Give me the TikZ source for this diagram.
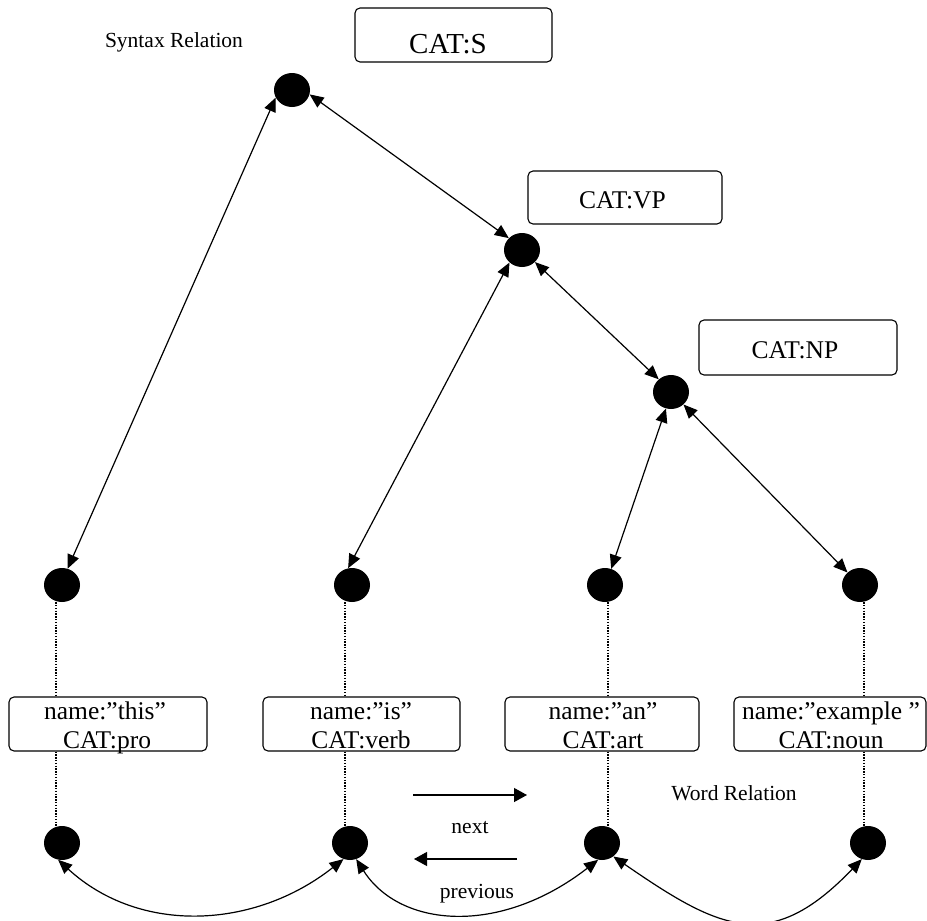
\documentclass[tikz,border=0pt]{standalone}
\usepackage{fontspec}
\setmainfont{Liberation Serif}
\usetikzlibrary{arrows.meta,shapes.geometric}
\begin{document}
\begin{tikzpicture}[x=1pt,y=-1pt,
  dot/.style={ellipse,fill=black,draw=none,minimum width=36pt,minimum height=34pt,inner sep=0pt},
  box/.style={draw,rounded corners=5pt,line width=1.1pt,inner sep=0pt},
  wbox/.style={box,minimum height=54pt},
  wtxt/.style={font=\fontsize{25.5pt}{30pt}\selectfont,inner sep=0pt,anchor=base},
  btxt/.style={font=\fontsize{25.5pt}{30pt}\selectfont,inner sep=0pt,anchor=base},
  lbl/.style={font=\fontsize{21.5pt}{26pt}\selectfont,inner sep=0pt,anchor=base},
  syn/.style={{Triangle[length=14pt,width=12pt]}-{Triangle[length=14pt,width=12pt]},line width=1.2pt},
  onearrow/.style={-{Triangle[length=13pt,width=14pt]},line width=1.2pt},
  dots/.style={line width=1.1pt,dash pattern=on 1.4pt off 1.4pt}]
\useasboundingbox (0,0) rectangle (927,921);

% labels
\node[lbl] (synlbl) at (174,47) {Syntax Relation};
\node[lbl] (wordlbl) at (734,800) {Word Relation};

% category boxes
\node[box,minimum width=197pt,minimum height=54pt] (sbox) at (453.5,35) {};
\node[btxt,font=\fontsize{29pt}{34pt}\selectfont] (stxt) at (448,53) {CAT:S};
\node[box,minimum width=194pt,minimum height=53pt] (vpbox) at (625,197.5) {};
\node[btxt] (vptxt) at (622.5,208) {CAT:VP};
\node[box,minimum width=198pt,minimum height=55pt] (npbox) at (798,347.5) {};
\node[btxt] (nptxt) at (795,358) {CAT:NP};

% syntax nodes
\node[dot] (top) at (292,90) {};
\node[dot] (vp) at (522,250) {};
\node[dot] (np) at (671,392) {};
\node[dot] (m1) at (62,585) {};
\node[dot] (m2) at (352,585) {};
\node[dot] (m3) at (605,585) {};
\node[dot] (m4) at (860,585) {};

% word boxes
\node[wbox,minimum width=198pt] (w1) at (108,724) {};
\node[wbox,minimum width=197pt] (w2) at (361.5,724) {};
\node[wbox,minimum width=194pt] (w3) at (602,724) {};
\node[wbox,minimum width=192pt] (w4) at (830,724) {};
\node[wtxt] (w1a) at (105,719) {name:”this”};
\node[wtxt] (w1b) at (107,748) {CAT:pro};
\node[wtxt] (w2a) at (361,719) {name:”is”};
\node[wtxt] (w2b) at (361,748) {CAT:verb};
\node[wtxt] (w3a) at (603,719) {name:”an”};
\node[wtxt] (w3b) at (603,748) {CAT:art};
\node[wtxt] (w4a) at (831,719) {name:”example ”};
\node[wtxt] (w4b) at (831,748) {CAT:noun};

% word nodes
\node[dot] (b1) at (62,843) {};
\node[dot] (b2) at (350,843) {};
\node[dot] (b3) at (602,843) {};
\node[dot] (b4) at (868,843) {};

% dotted links
\draw[dots] ([xshift=-6pt]m1.south) -- ([xshift=-6pt]m1.south |- w1.north);
\draw[dots] ([xshift=-6pt]m1.south |- w1.south) -- ([xshift=-6pt]m1.south |- b1.north);
\draw[dots] ([xshift=-7pt]m2.south) -- ([xshift=-7pt]m2.south |- w2.north);
\draw[dots] ([xshift=-7pt]m2.south |- w2.south) -- ([xshift=-7pt]m2.south |- b2.north);
\draw[dots] ([xshift=3pt]m3.south) -- ([xshift=3pt]m3.south |- w3.north);
\draw[dots] ([xshift=3pt]m3.south |- w3.south) -- ([xshift=3pt]m3.south |- b3.north);
\draw[dots] ([xshift=4pt]m4.south) -- ([xshift=4pt]m4.south |- w4.north);
\draw[dots] ([xshift=4pt]m4.south |- w4.south) -- ([xshift=4pt]m4.south |- b4.north);

% syntax relations
\draw[syn] (top.205) -- (m1.71);
\draw[syn] (top.346) -- (vp.138);
\draw[syn] (vp.225) -- (m2.103);
\draw[syn] (vp.317) -- (np.134);
\draw[syn] (np.253) -- (m3.69);
\draw[syn] (np.315) -- (m4.135);

% word relations
\draw[syn] (b1.257) .. controls (140,935) and (255,929) .. (b2.248);
\draw[syn] (b2.291) .. controls (400,928) and (500,936) .. (b3.257);
\draw[syn] (b3.310) .. controls (720,930) and (770,955) .. (b4.249);

% legend arrows
\coordinate (n1) at (413,795);
\coordinate (n2) at (527,795);
\draw[onearrow] (n1) -- (n2);
\node[lbl] (nextlbl) at (470,833) {next};
\coordinate (p1) at (517,859);
\coordinate (p2) at (414,859);
\draw[onearrow] (p1) -- (p2);
\node[lbl] (prevlbl) at (477,898) {previous};
\end{tikzpicture}
\end{document}
